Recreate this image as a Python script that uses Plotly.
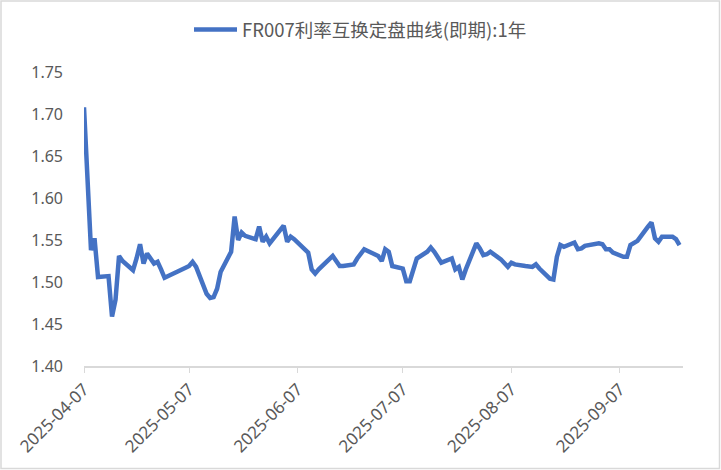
import plotly.graph_objects as go

# FR007 1Y swap fixing curve
dates = [
    "2025-04-07", "2025-04-08", "2025-04-09", "2025-04-10", "2025-04-11",
    "2025-04-14", "2025-04-15", "2025-04-16", "2025-04-17", "2025-04-18",
    "2025-04-21", "2025-04-22", "2025-04-23", "2025-04-24", "2025-04-25",
    "2025-04-27", "2025-04-28", "2025-04-29", "2025-04-30",
    "2025-05-06", "2025-05-07", "2025-05-08", "2025-05-09",
    "2025-05-12", "2025-05-13", "2025-05-14", "2025-05-15", "2025-05-16",
    "2025-05-19", "2025-05-20", "2025-05-21", "2025-05-22", "2025-05-23",
    "2025-05-26", "2025-05-27", "2025-05-28", "2025-05-29", "2025-05-30",
    "2025-06-03", "2025-06-04", "2025-06-05", "2025-06-06",
    "2025-06-09", "2025-06-10", "2025-06-11", "2025-06-12", "2025-06-13",
    "2025-06-16", "2025-06-17", "2025-06-18", "2025-06-19", "2025-06-20",
    "2025-06-23", "2025-06-24", "2025-06-25", "2025-06-26", "2025-06-27",
    "2025-06-30", "2025-07-01", "2025-07-02", "2025-07-03", "2025-07-04",
    "2025-07-07", "2025-07-08", "2025-07-09", "2025-07-10", "2025-07-11",
    "2025-07-14", "2025-07-15", "2025-07-16", "2025-07-17", "2025-07-18",
    "2025-07-21", "2025-07-22", "2025-07-23", "2025-07-24", "2025-07-25",
    "2025-07-28", "2025-07-29", "2025-07-30", "2025-07-31", "2025-08-01",
    "2025-08-04", "2025-08-05", "2025-08-06", "2025-08-07", "2025-08-08",
    "2025-08-11", "2025-08-12", "2025-08-13", "2025-08-14", "2025-08-15",
    "2025-08-18", "2025-08-19", "2025-08-20", "2025-08-21", "2025-08-22",
    "2025-08-25", "2025-08-26", "2025-08-27", "2025-08-28", "2025-08-29",
    "2025-09-01", "2025-09-02", "2025-09-03", "2025-09-04", "2025-09-05",
    "2025-09-08", "2025-09-09", "2025-09-10", "2025-09-11", "2025-09-12",
    "2025-09-15", "2025-09-16", "2025-09-17", "2025-09-18", "2025-09-19",
    "2025-09-22", "2025-09-23", "2025-09-24",
]
rates = [
    1.708, 1.622, 1.538, 1.552, 1.506,
    1.507, 1.459, 1.479, 1.531, 1.525,
    1.514, 1.528, 1.545, 1.522, 1.534,
    1.522, 1.524, 1.515, 1.505,
    1.517, 1.519, 1.524, 1.518,
    1.486, 1.481, 1.482, 1.492, 1.512,
    1.536, 1.578, 1.550, 1.559, 1.555,
    1.551, 1.566, 1.548, 1.554, 1.546,
    1.567, 1.548, 1.554, 1.551,
    1.540, 1.535, 1.515, 1.510, 1.515,
    1.526, 1.531, 1.525, 1.519, 1.519,
    1.521, 1.528, 1.534, 1.539, 1.537,
    1.531, 1.525, 1.539, 1.536, 1.519,
    1.516, 1.501, 1.501, 1.515, 1.528,
    1.536, 1.541, 1.536, 1.530, 1.523,
    1.528, 1.515, 1.518, 1.503, 1.515,
    1.546, 1.540, 1.532, 1.533, 1.536,
    1.527, 1.522, 1.518, 1.523, 1.521,
    1.519, 1.518, 1.518, 1.521, 1.516,
    1.504, 1.503, 1.530, 1.544, 1.542,
    1.547, 1.539, 1.540, 1.543, 1.544,
    1.546, 1.545, 1.539, 1.539, 1.535,
    1.530, 1.530, 1.544, 1.547, 1.549,
    1.566, 1.571, 1.552, 1.548, 1.554,
    1.554, 1.551, 1.544,
]
tick_dates = ["2025-04-07", "2025-05-07", "2025-06-07",
              "2025-07-07", "2025-08-07", "2025-09-07"]
series_name = "FR007利率互换定盘曲线(即期):1年"

grey = "#d9d9d9"
txt = "#595959"

fig = go.Figure()
fig.add_trace(go.Scatter(
    x=dates, y=rates, mode="lines", name=series_name,
    line=dict(color="#4472C4", width=4.5),
))

# fixed margins so the plot area sits where the reference has it
ml, mr, mt, mb = 84, 38, 72, 104
pw, ph = 721 - ml - mr, 470 - mt - mb

fig.update_layout(
    width=721, height=470,
    margin=dict(l=ml, r=mr, t=mt, b=mb, autoexpand=False),
    paper_bgcolor="white", plot_bgcolor="white",
    font=dict(family="Noto Sans CJK SC, Noto Sans, sans-serif", color=txt),
    showlegend=True,
    legend=dict(orientation="h", xref="container", x=0.5, xanchor="center",
                yref="container", y=1 - 30 / 470, yanchor="middle",
                bgcolor="rgba(0,0,0,0)",
                font=dict(size=18.5, color=txt), itemwidth=43),
    xaxis=dict(
        type="date", range=["2025-04-07", "2025-09-25"],
        tickvals=tick_dates, ticktext=tick_dates, tickangle=-45,
        ticks="outside", ticklen=5, tickcolor=grey,
        showline=True, linecolor=grey, linewidth=1.5, showgrid=False,
        automargin=False,
        tickfont=dict(size=17, color=txt, family="Noto Sans, sans-serif"),
    ),
    yaxis=dict(
        range=[1.40, 1.75], dtick=0.05, tick0=1.40, tickformat=".2f",
        showgrid=False, zeroline=False, showline=False, ticks="",
        automargin=False, ticklabelstandoff=20,
        tickfont=dict(size=16, color=txt, family="Noto Sans, sans-serif"),
    ),
    shapes=[dict(
        type="rect", xref="paper", yref="paper",
        x0=-(ml - 1) / pw, x1=1 + (mr - 1.5) / pw,
        y0=-(mb - 1.5) / ph, y1=1 + (mt - 1) / ph,
        line=dict(color=grey, width=1.5), layer="above",
    )],
)

# drop the browser's default body margin so the chart sits at the page origin
fig.write_html("out.html", config={"displayModeBar": False},
               post_script="document.body.style.margin='0';")
